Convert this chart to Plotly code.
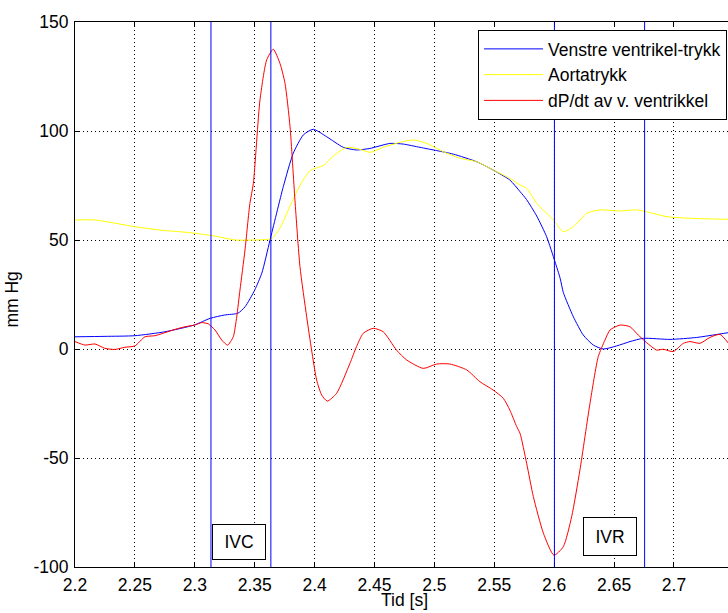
import plotly.graph_objects as go

# ---- data ----
lv_t = [2.200, 2.225, 2.250, 2.275, 2.2995, 2.313, 2.325, 2.336, 2.342, 2.350, 2.356, 2.3628,
        2.3739, 2.3822, 2.3906, 2.3989, 2.410, 2.424, 2.435, 2.4462, 2.463, 2.474, 2.488, 2.502,
        2.5158, 2.5353, 2.549, 2.563, 2.5715, 2.577, 2.5854, 2.5937, 2.6007, 2.605, 2.6076, 2.616,
        2.6243, 2.6327, 2.641, 2.6521, 2.6633, 2.6744, 2.6967, 2.719, 2.7384, 2.7455]
lv_p = [5.6, 5.8, 6.1, 7.9, 11.0, 14.1, 15.6, 16.4, 19.4, 27.0, 34.9, 50.0,
        74.5, 89.8, 98.2, 100.8, 97.4, 92.5, 91.3, 92.0, 94.3, 94.0, 92.5, 91.0,
        89.4, 85.9, 82.1, 77.5, 72.2, 68.5, 61.0, 51.5, 40.0, 32.4, 26.0, 14.8,
        6.4, 1.8, 0.0, 1.4, 3.4, 4.9, 4.4, 5.3, 6.9, 7.5]

ao_t = [2.200, 2.2167, 2.2334, 2.250, 2.275, 2.2876, 2.300, 2.3169, 2.3336, 2.350, 2.3614, 2.365,
        2.3711, 2.3795, 2.3878, 2.3962, 2.4073, 2.4156, 2.4268, 2.4379, 2.4462, 2.4573, 2.4713,
        2.4824, 2.4936, 2.5074, 2.5214, 2.5353, 2.549, 2.563, 2.5715, 2.577, 2.5854, 2.5993,
        2.6076, 2.616, 2.6271, 2.6382, 2.6549, 2.6689, 2.6827, 2.6939, 2.7161, 2.7455]
ao_p = [59.2, 59.2, 57.7, 56.1, 54.3, 53.8, 53.1, 51.8, 50.0, 50.0, 50.3, 51.0,
        55.5, 65.5, 75.0, 81.8, 84.2, 88.5, 92.5, 91.6, 90.2, 92.5, 94.8,
        95.9, 94.3, 90.5, 87.5, 85.9, 82.1, 78.3, 75.2, 73.7, 66.8, 59.2,
        53.8, 56.1, 62.2, 63.8, 63.3, 63.8, 62.2, 60.7, 59.9, 59.5]

dp_t = [2.200, 2.2083, 2.2167, 2.225, 2.2334, 2.2417, 2.250, 2.2584, 2.2668, 2.2751, 2.2835,
        2.2918, 2.300, 2.3058, 2.3113, 2.3169, 2.3225, 2.3274, 2.3321, 2.335, 2.3377, 2.3419,
        2.346, 2.3489, 2.3544, 2.360, 2.3655, 2.3711, 2.3753, 2.3795, 2.3836, 2.3878, 2.3934,
        2.3975, 2.4017, 2.4059, 2.4106, 2.4184, 2.4295, 2.435, 2.4406, 2.449, 2.4573, 2.4684,
        2.4768, 2.4907, 2.5018, 2.513, 2.527, 2.538, 2.549, 2.5575, 2.563, 2.5687, 2.5715,
        2.577, 2.5826, 2.591, 2.5998, 2.6076, 2.6146, 2.6215, 2.6299, 2.6368, 2.6424, 2.6466,
        2.655, 2.6633, 2.6702, 2.6772, 2.6856, 2.691, 2.6994, 2.7078, 2.7134, 2.7217, 2.730,
        2.7384, 2.7455]
dp_v = [3.4, 1.8, 2.3, 0.3, -0.2, 0.8, 1.4, 5.6, 6.1, 7.5, 9.0,
        10.2, 11.0, 12.1, 11.5, 8.7, 4.1, 1.8, 5.6, 14.8, 27.0, 45.4,
        66.8, 76.0, 114.2, 132.6, 137.5, 131.0, 121.9, 102.0, 68.3, 37.8, 14.8,
        -0.5, -14.2, -21.1, -23.9, -20.3, -6.6, 1.1, 7.2, 9.5, 7.9, -0.5,
        -5.0, -8.9, -6.9, -6.9, -9.6, -15.0, -18.8, -22.6, -28.0, -35.6, -38.7,
        -52.4, -67.7, -84.5, -94.6, -90.7, -76.9, -55.5, -24.9, -3.5, 4.1, 8.7,
        11.0, 10.2, 6.4, 2.9, -0.5, -0.1, -1.2, 2.6, 3.4, 2.6, 5.3,
        6.7, 2.6]

series_names = ["Venstre ventrikel-trykk", "Aortatrykk", "dP/dt av v. ventrikkel"]
series_colors = ["#0000ff", "#ffff00", "#ff0000"]

marker_times = [2.3135, 2.3635, 2.6002, 2.6755]
phase_labels = ["IVC", "IVR"]
phase_x = [2.3373, 2.6466]
phase_y = [-88.5, -85.8]

x_ticks = [2.2, 2.25, 2.3, 2.35, 2.4, 2.45, 2.5, 2.55, 2.6, 2.65, 2.7]
x_ticktext = ["2.2", "2.25", "2.3", "2.35", "2.4", "2.45", "2.5", "2.55", "2.6", "2.65", "2.7"]
y_ticks = [150, 100, 50, 0, -50, -100]
y_ticktext = ["150", "100", "50", "0", "-50", "-100"]

x_range = [2.2, 2.7451]
y_range = [-100, 150]

FONT = "Liberation Sans, Arial, sans-serif"
FS = 17.5

fig = go.Figure()
for t, v, name, col in zip([lv_t, ao_t, dp_t], [lv_p, ao_p, dp_v], series_names, series_colors):
    fig.add_trace(go.Scatter(x=t, y=v, mode="lines", name=name,
                             line=dict(color=col, width=1, shape="spline", smoothing=0.6)))

for mt in marker_times:
    fig.add_shape(type="line", xref="x", yref="y", x0=mt, x1=mt, y0=y_range[0], y1=y_range[1],
                  line=dict(color="#0000ff", width=1), layer="above")

for lab, px_, py_ in zip(phase_labels, phase_x, phase_y):
    fig.add_annotation(x=px_, y=py_, xref="x", yref="y", text=lab, showarrow=False,
                       font=dict(family=FONT, size=FS, color="black"),
                       bgcolor="white", bordercolor="black", borderwidth=1, borderpad=5,
                       width=42, height=24 if lab == "IVC" else 27)

fig.add_annotation(x=2.475, y=-0.039, xref="x", yref="paper", text="Tid [s]", showarrow=False,
                   xanchor="center", yanchor="top", font=dict(family=FONT, size=FS, color="black"))
fig.add_annotation(x=-0.097, y=0.49, xref="paper", yref="paper", text="mm Hg", showarrow=False,
                   textangle=-90, xanchor="center", yanchor="middle",
                   font=dict(family=FONT, size=FS, color="black"))

axis_common = dict(showline=True, linecolor="black", linewidth=1, ticks="inside", ticklen=5,
                   tickcolor="black", showgrid=True, gridcolor="black", gridwidth=1,
                   griddash="1px,3px", zeroline=False,
                   tickfont=dict(family=FONT, size=FS, color="black"))

fig.update_layout(
    width=728, height=613,
    margin=dict(l=75, r=0, t=22, b=46),
    paper_bgcolor="white", plot_bgcolor="white",
    font=dict(family=FONT, size=FS, color="black"),
    xaxis=dict(range=x_range, tickvals=x_ticks, ticktext=x_ticktext, mirror="ticks",
               ticklabelstandoff=2, **axis_common),
    yaxis=dict(range=y_range, tickvals=y_ticks, ticktext=y_ticktext, mirror=False,
               ticklabelstandoff=2, **axis_common),
    legend=dict(x=0.9985, y=0.9853, xanchor="right", yanchor="top", bgcolor="white",
                bordercolor="black", borderwidth=1, itemwidth=59,
                font=dict(family=FONT, size=FS, color="black"), tracegroupgap=0),
    showlegend=True,
)

fig.write_html("out.html")
